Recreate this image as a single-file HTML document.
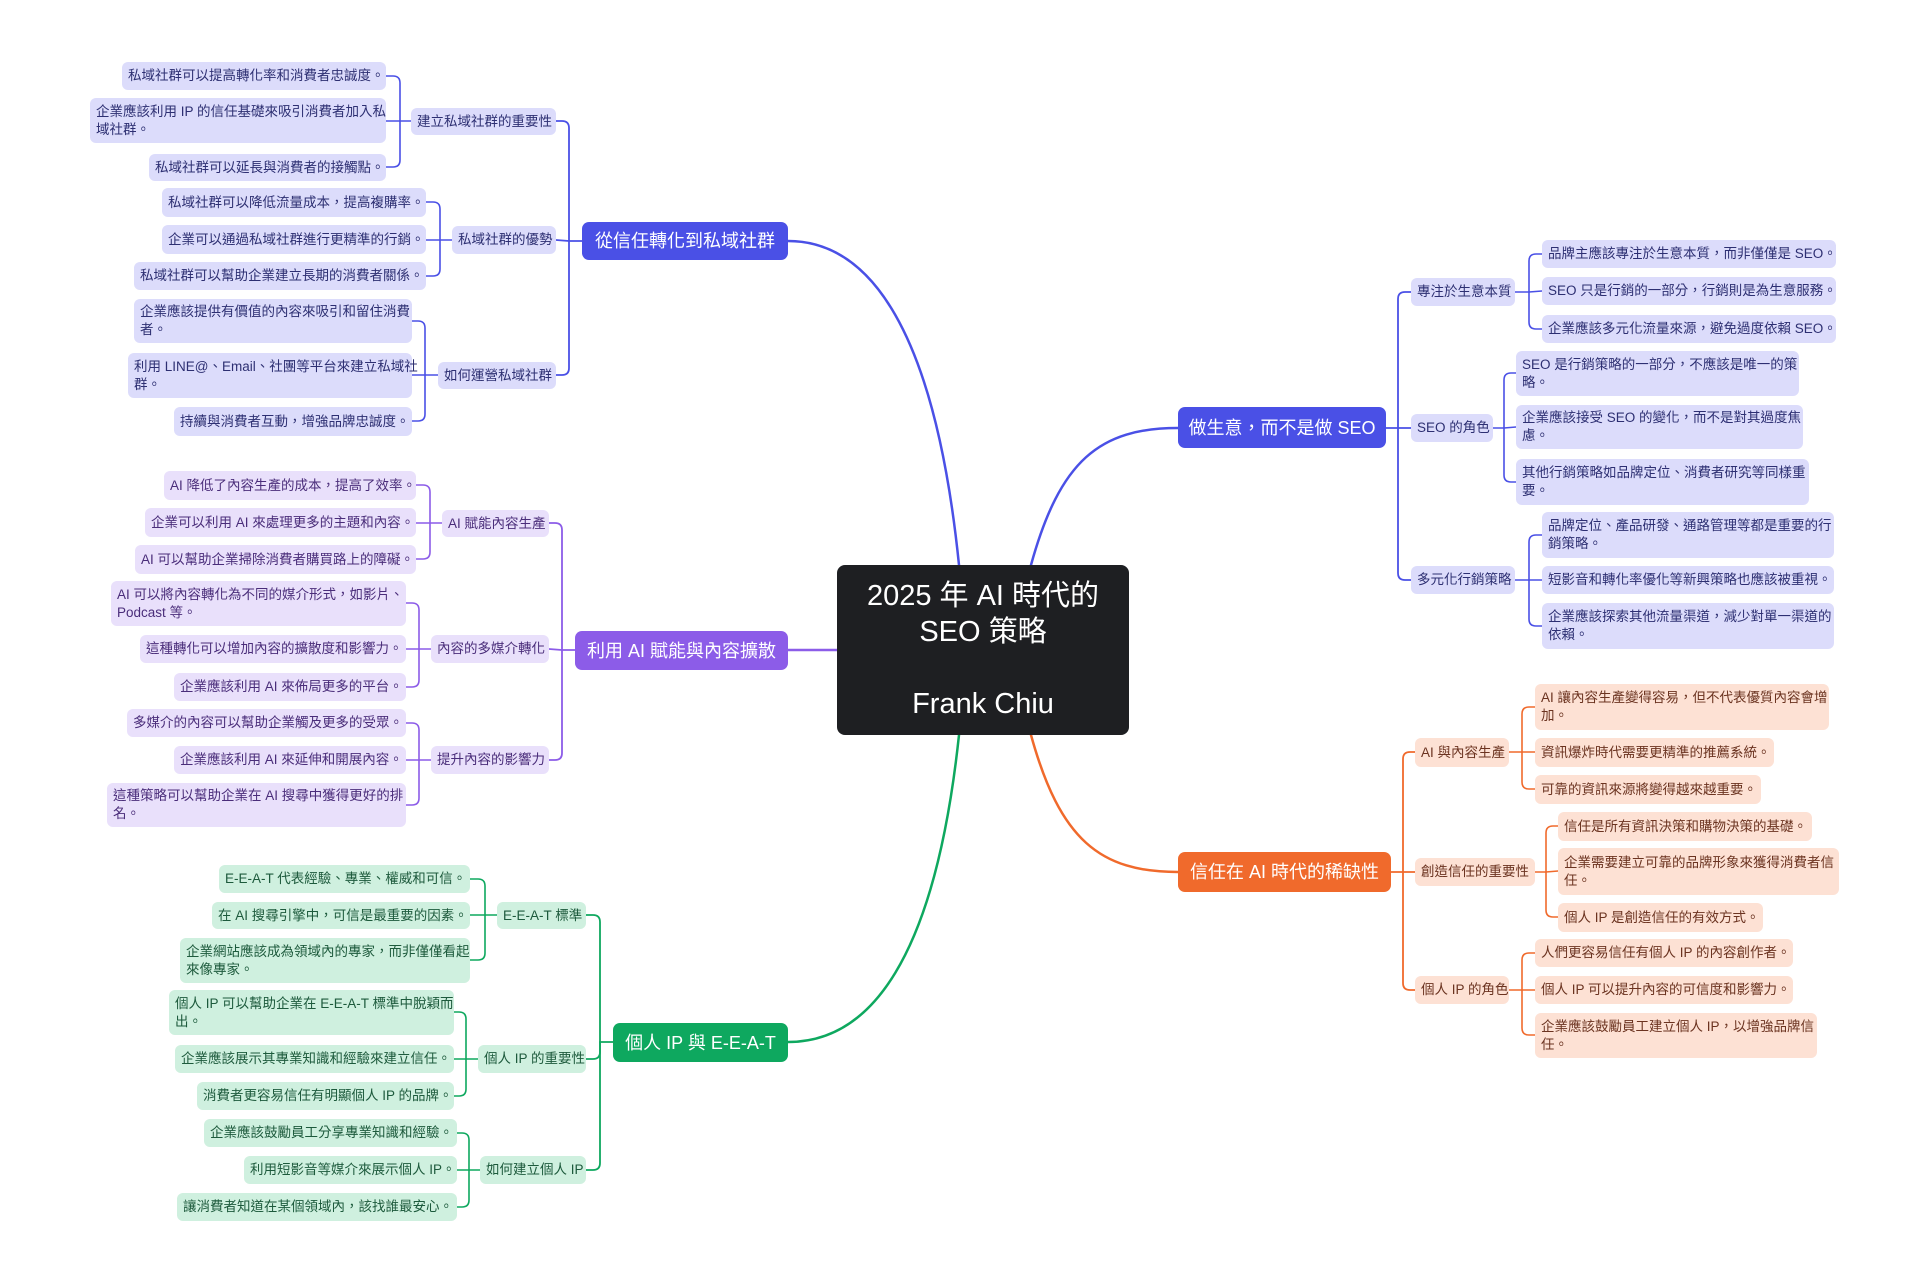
<!DOCTYPE html>
<html><head><meta charset="utf-8">
<style>
html,body{margin:0;padding:0;background:#fff;}
body{width:1920px;height:1276px;position:relative;overflow:hidden;font-family:"Liberation Sans","Noto Sans CJK TC",sans-serif;}
.n{position:absolute;box-sizing:border-box;display:flex;align-items:center;padding:0 6px;font-size:13.5px;line-height:18px;border-radius:6px;white-space:nowrap;}
.b{background:#dcdcfb;color:#2d2f72;}
.p{background:#e9e0fb;color:#4a2d7a;}
.g{background:#cff0df;color:#1d5a3c;}
.o{background:#fde1d4;color:#6b3320;}
.m{color:#fff;font-size:18px;justify-content:center;border-radius:7px;}
.c{position:absolute;left:837px;top:565px;width:292px;height:170px;background:#1e1f22;border-radius:8px;color:#fff;font-size:29px;line-height:36px;text-align:center;display:flex;flex-direction:column;justify-content:center;box-sizing:border-box;}
svg{position:absolute;left:0;top:0;}
</style></head><body>
<svg id="s" width="1920" height="1276" viewBox="0 0 1920 1276"></svg>

<div class="c"><div>2025 年 AI 時代的</div><div>SEO 策略</div><div>&nbsp;</div><div>Frank Chiu</div></div>

<!-- main branches -->
<div class="n m" style="left:582px;top:222px;width:206px;height:38px;background:#4a50e6">從信任轉化到私域社群</div>
<div class="n m" style="left:575px;top:631px;width:213px;height:39px;background:#8c5ce8">利用 AI 賦能與內容擴散</div>
<div class="n m" style="left:613px;top:1023px;width:175px;height:39px;background:#0ea85f">個人 IP 與 E-E-A-T</div>
<div class="n m" style="left:1178px;top:407px;width:208px;height:41px;background:#4a50e6">做生意，而不是做 SEO</div>
<div class="n m" style="left:1178px;top:852px;width:213px;height:40px;background:#f06a2c">信任在 AI 時代的稀缺性</div>

<!-- blue left -->
<div class="n b" style="left:411px;top:108px;width:145px;height:27px">建立私域社群的重要性</div>
<div class="n b" style="left:452px;top:226px;width:104px;height:28px">私域社群的優勢</div>
<div class="n b" style="left:438px;top:362px;width:118px;height:27px">如何運營私域社群</div>
<div class="n b" style="left:122px;top:62px;width:264px;height:28px">私域社群可以提高轉化率和消費者忠誠度。</div>
<div class="n b" style="left:90px;top:98px;width:296px;height:45px">企業應該利用 IP 的信任基礎來吸引消費者加入私<br>域社群。</div>
<div class="n b" style="left:149px;top:154px;width:237px;height:27px">私域社群可以延長與消費者的接觸點。</div>
<div class="n b" style="left:162px;top:188px;width:264px;height:29px">私域社群可以降低流量成本，提高複購率。</div>
<div class="n b" style="left:162px;top:225px;width:264px;height:29px">企業可以通過私域社群進行更精準的行銷。</div>
<div class="n b" style="left:134px;top:262px;width:292px;height:28px">私域社群可以幫助企業建立長期的消費者關係。</div>
<div class="n b" style="left:134px;top:299px;width:278px;height:44px">企業應該提供有價值的內容來吸引和留住消費<br>者。</div>
<div class="n b" style="left:128px;top:353px;width:284px;height:45px">利用 LINE@、Email、社團等平台來建立私域社<br>群。</div>
<div class="n b" style="left:174px;top:407px;width:238px;height:29px">持續與消費者互動，增強品牌忠誠度。</div>

<!-- purple -->
<div class="n p" style="left:442px;top:510px;width:107px;height:27px">AI 賦能內容生產</div>
<div class="n p" style="left:431px;top:635px;width:118px;height:28px">內容的多媒介轉化</div>
<div class="n p" style="left:431px;top:746px;width:118px;height:28px">提升內容的影響力</div>
<div class="n p" style="left:164px;top:471px;width:252px;height:29px">AI 降低了內容生產的成本，提高了效率。</div>
<div class="n p" style="left:145px;top:508px;width:271px;height:29px">企業可以利用 AI 來處理更多的主題和內容。</div>
<div class="n p" style="left:135px;top:545px;width:281px;height:29px">AI 可以幫助企業掃除消費者購買路上的障礙。</div>
<div class="n p" style="left:111px;top:581px;width:295px;height:45px">AI 可以將內容轉化為不同的媒介形式，如影片、<br>Podcast 等。</div>
<div class="n p" style="left:140px;top:635px;width:266px;height:28px">這種轉化可以增加內容的擴散度和影響力。</div>
<div class="n p" style="left:174px;top:673px;width:232px;height:28px">企業應該利用 AI 來佈局更多的平台。</div>
<div class="n p" style="left:127px;top:709px;width:279px;height:28px">多媒介的內容可以幫助企業觸及更多的受眾。</div>
<div class="n p" style="left:174px;top:746px;width:232px;height:28px">企業應該利用 AI 來延伸和開展內容。</div>
<div class="n p" style="left:107px;top:783px;width:299px;height:44px">這種策略可以幫助企業在 AI 搜尋中獲得更好的排<br>名。</div>

<!-- green -->
<div class="n g" style="left:497px;top:902px;width:89px;height:27px">E-E-A-T 標準</div>
<div class="n g" style="left:478px;top:1045px;width:108px;height:28px">個人 IP 的重要性</div>
<div class="n g" style="left:480px;top:1156px;width:106px;height:28px">如何建立個人 IP</div>
<div class="n g" style="left:219px;top:865px;width:251px;height:28px">E-E-A-T 代表經驗、專業、權威和可信。</div>
<div class="n g" style="left:212px;top:902px;width:258px;height:27px">在 AI 搜尋引擎中，可信是最重要的因素。</div>
<div class="n g" style="left:180px;top:938px;width:290px;height:45px">企業網站應該成為領域內的專家，而非僅僅看起<br>來像專家。</div>
<div class="n g" style="left:169px;top:990px;width:285px;height:45px">個人 IP 可以幫助企業在 E-E-A-T 標準中脫穎而<br>出。</div>
<div class="n g" style="left:175px;top:1045px;width:279px;height:28px">企業應該展示其專業知識和經驗來建立信任。</div>
<div class="n g" style="left:197px;top:1082px;width:257px;height:28px">消費者更容易信任有明顯個人 IP 的品牌。</div>
<div class="n g" style="left:204px;top:1119px;width:253px;height:28px">企業應該鼓勵員工分享專業知識和經驗。</div>
<div class="n g" style="left:244px;top:1156px;width:213px;height:28px">利用短影音等媒介來展示個人 IP。</div>
<div class="n g" style="left:177px;top:1193px;width:280px;height:28px">讓消費者知道在某個領域內，該找誰最安心。</div>

<!-- right blue -->
<div class="n b" style="left:1411px;top:278px;width:104px;height:28px">專注於生意本質</div>
<div class="n b" style="left:1411px;top:414px;width:82px;height:28px">SEO 的角色</div>
<div class="n b" style="left:1411px;top:566px;width:104px;height:28px">多元化行銷策略</div>
<div class="n b" style="left:1542px;top:240px;width:294px;height:28px">品牌主應該專注於生意本質，而非僅僅是 SEO。</div>
<div class="n b" style="left:1542px;top:277px;width:294px;height:28px">SEO 只是行銷的一部分，行銷則是為生意服務。</div>
<div class="n b" style="left:1542px;top:315px;width:294px;height:28px">企業應該多元化流量來源，避免過度依賴 SEO。</div>
<div class="n b" style="left:1516px;top:351px;width:283px;height:45px">SEO 是行銷策略的一部分，不應該是唯一的策<br>略。</div>
<div class="n b" style="left:1516px;top:405px;width:287px;height:44px">企業應該接受 SEO 的變化，而不是對其過度焦<br>慮。</div>
<div class="n b" style="left:1516px;top:459px;width:293px;height:46px">其他行銷策略如品牌定位、消費者研究等同樣重<br>要。</div>
<div class="n b" style="left:1542px;top:512px;width:292px;height:46px">品牌定位、產品研發、通路管理等都是重要的行<br>銷策略。</div>
<div class="n b" style="left:1542px;top:566px;width:292px;height:28px">短影音和轉化率優化等新興策略也應該被重視。</div>
<div class="n b" style="left:1542px;top:603px;width:292px;height:46px">企業應該探索其他流量渠道，減少對單一渠道的<br>依賴。</div>

<!-- orange -->
<div class="n o" style="left:1415px;top:738px;width:94px;height:29px">AI 與內容生產</div>
<div class="n o" style="left:1415px;top:858px;width:120px;height:28px">創造信任的重要性</div>
<div class="n o" style="left:1415px;top:976px;width:94px;height:28px">個人 IP 的角色</div>
<div class="n o" style="left:1535px;top:684px;width:294px;height:46px">AI 讓內容生產變得容易，但不代表優質內容會增<br>加。</div>
<div class="n o" style="left:1535px;top:738px;width:239px;height:29px">資訊爆炸時代需要更精準的推薦系統。</div>
<div class="n o" style="left:1535px;top:775px;width:226px;height:29px">可靠的資訊來源將變得越來越重要。</div>
<div class="n o" style="left:1558px;top:812px;width:254px;height:29px">信任是所有資訊決策和購物決策的基礎。</div>
<div class="n o" style="left:1558px;top:848px;width:281px;height:47px">企業需要建立可靠的品牌形象來獲得消費者信<br>任。</div>
<div class="n o" style="left:1558px;top:903px;width:205px;height:29px">個人 IP 是創造信任的有效方式。</div>
<div class="n o" style="left:1535px;top:939px;width:258px;height:28px">人們更容易信任有個人 IP 的內容創作者。</div>
<div class="n o" style="left:1535px;top:976px;width:258px;height:28px">個人 IP 可以提升內容的可信度和影響力。</div>
<div class="n o" style="left:1535px;top:1013px;width:282px;height:45px">企業應該鼓勵員工建立個人 IP，以增強品牌信<br>任。</div>

<script>
var svg=document.getElementById('s');
function P(d,c,w){var p=document.createElementNS('http://www.w3.org/2000/svg','path');p.setAttribute('d',d);p.setAttribute('stroke',c);p.setAttribute('stroke-width',w);p.setAttribute('fill','none');p.setAttribute('stroke-linecap','round');svg.appendChild(p);}
// group: parentEdgeX, parentMidY, spineX, children [edgeX, midY], color
function G(px,py,sx,ch,c,w){
  P('M'+px+' '+py+' L'+sx+' '+py,c,w);
  ch.forEach(function(k){
    var ex=k[0],ey=k[1];
    if(Math.abs(ey-py)<3){P('M'+sx+' '+py+' L'+ex+' '+ey,c,w);return;}
    var r=7,dir=ey<py?-1:1,hs=ex<sx?-1:1;
    P('M'+sx+' '+py+' L'+sx+' '+(ey-dir*r)+' Q'+sx+' '+ey+' '+(sx+hs*r)+' '+ey+' L'+ex+' '+ey,c,w);
  });
}
var B='#4a50e6',PU='#8c5ce8',GR='#0ea85f',OR='#f06a2c';
// center curves
P('M959 565 C935 330 870 241 788 241',B,2.5);
P('M837 650 L788 650',PU,2.5);
P('M959 735 C935 960 870 1042 788 1042',GR,2.5);
P('M1031 565 C1060 460 1100 428 1178 428',B,2.5);
P('M1031 735 C1060 840 1100 872 1178 872',OR,2.5);
// main -> subs
G(582,241,569,[[556,121],[556,240],[556,375]],B,1.8);
G(575,650,562,[[549,523],[549,649],[549,760]],PU,1.8);
G(613,1042,600,[[586,915],[586,1059],[586,1170]],GR,1.8);
G(1386,428,1398,[[1411,292],[1411,428],[1411,580]],B,1.8);
G(1391,872,1403,[[1415,752],[1415,872],[1415,990]],OR,1.8);
// subs -> leaves
G(411,121,400,[[386,76],[386,121],[386,167]],B,1.6);
G(452,240,440,[[426,202],[426,240],[426,276]],B,1.6);
G(438,375,425,[[412,321],[412,375],[412,421]],B,1.6);
G(442,523,430,[[416,485],[416,523],[416,559]],PU,1.6);
G(431,649,419,[[406,603],[406,649],[406,687]],PU,1.6);
G(431,760,419,[[406,723],[406,760],[406,805]],PU,1.6);
G(497,915,485,[[470,879],[470,915],[470,960]],GR,1.6);
G(478,1059,466,[[454,1012],[454,1059],[454,1096]],GR,1.6);
G(480,1170,469,[[457,1133],[457,1170],[457,1207]],GR,1.6);
G(1515,292,1529,[[1542,254],[1542,291],[1542,329]],B,1.6);
G(1493,428,1504,[[1516,373],[1516,427],[1516,482]],B,1.6);
G(1515,580,1529,[[1542,535],[1542,580],[1542,626]],B,1.6);
G(1509,752,1522,[[1535,707],[1535,752],[1535,789]],OR,1.6);
G(1535,872,1546,[[1558,826],[1558,871],[1558,917]],OR,1.6);
G(1509,990,1522,[[1535,953],[1535,990],[1535,1035]],OR,1.6);
</script>
</body></html>
